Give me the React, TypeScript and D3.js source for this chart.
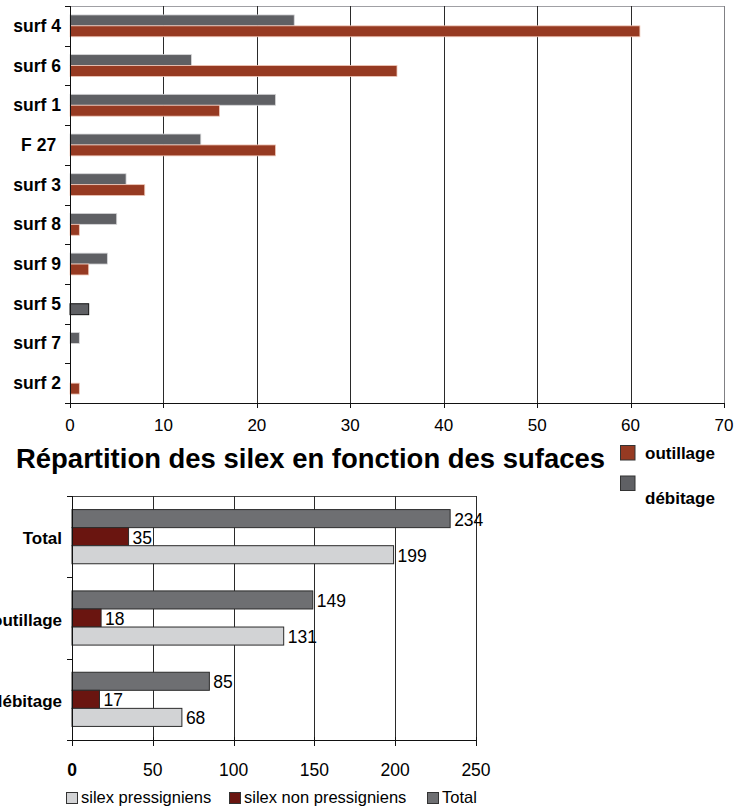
import React from "react";
import * as d3 from "d3";

// ---- Top chart data ----
const surfaces = ["surf 4", "surf 6", "surf 1", "F 27 ", "surf 3", "surf 8", "surf 9", "surf 5", "surf 7", "surf 2"];
const debitage = [24, 13, 22, 14, 6, 5, 4, 0, 1, 0];
const outillage = [61, 35, 16, 22, 8, 1, 2, 2, 0, 1];
// surf 5's outillage point is formatted grey with a black border in the original
const outillageGreyPoint = [false, false, false, false, false, false, false, true, false, false];
const topTicks = [0, 10, 20, 30, 40, 50, 60, 70];
const topSeries = ["débitage", "outillage"];
const topLegend = ["outillage", "débitage"];
const title = "Répartition des silex en fonction des sufaces";

// ---- Bottom chart data ----
const groups = ["Total", "outillage", "débitage"];
const totalVals = [234, 149, 85];
const nonPressVals = [35, 18, 17];
const pressVals = [199, 131, 68];
const bottomSeries = ["Total", "silex non pressigniens", "silex pressigniens"];
const bottomLegend = ["silex pressigniens", "silex non pressigniens", "Total"];
const bottomTicks = [0, 50, 100, 150, 200, 250];

const FONT = "Arial, 'Liberation Sans', sans-serif";
const RED = "#963a22";
const GREY = "#5f6064";
const B_TOTAL = "#6e6f72";
const B_NON = "#6a1510";
const B_PRESS = "#d2d3d5";

export default function App() {
  // top chart scales
  const xTop = d3.scaleLinear().domain([0, 70]).range([70, 724]);
  const yTop = d3.scaleBand().domain(surfaces).range([6, 403]).paddingInner(0);
  const bwTop = yTop.bandwidth();
  const ySubTop = d3.scaleBand().domain(topSeries).range([bwTop * 0.225, bwTop * 0.775]);

  // bottom chart scales
  const xBot = d3.scaleLinear().domain([0, 250]).range([72, 476]);
  const yBot = d3.scaleBand().domain(groups).range([496, 740]).paddingInner(0);
  const bwBot = yBot.bandwidth();
  const ySubBot = d3.scaleBand().domain(bottomSeries).range([bwBot * 0.167, bwBot * 0.833]);
  const botVals: Record<string, number[]> = {
    "Total": totalVals,
    "silex non pressigniens": nonPressVals,
    "silex pressigniens": pressVals,
  };
  const botColor: Record<string, string> = {
    "Total": B_TOTAL,
    "silex non pressigniens": B_NON,
    "silex pressigniens": B_PRESS,
  };

  const topBoundaries = surfaces.map((s) => yTop(s)!).concat([403]);
  const botBoundaries = groups.map((g) => yBot(g)!).concat([740]);

  return (
    <svg width={740} height={809} style={{ position: "absolute", left: 0, top: 0, background: "#fff" }} fontFamily={FONT}>
      <rect x={0} y={0} width={740} height={809} fill="#fff" />
      {/* ===== TOP CHART ===== */}
      <line x1={70} x2={724} y1={6.5} y2={6.5} stroke="#a0a0a4" strokeWidth={1} />
      {topTicks.filter((t) => t > 0).map((t) => (
        <line key={"tg" + t} x1={Math.round(xTop(t)) + 0.5} x2={Math.round(xTop(t)) + 0.5} y1={6} y2={403}
          stroke={t === 70 ? "#808084" : "#2a2a2a"} strokeWidth={1} />
      ))}
      {surfaces.map((s, i) => {
        const y0 = yTop(s)!;
        return (
          <g key={s}>
            {debitage[i] > 0 && (
              <rect x={xTop(0)} y={y0 + ySubTop("débitage")!} width={xTop(debitage[i]) - xTop(0)}
                height={ySubTop.bandwidth()} fill={GREY} stroke="#d6d6d8" strokeWidth={0.8} />
            )}
            {outillage[i] > 0 && (
              <rect x={xTop(0)} y={y0 + ySubTop("outillage")!} width={xTop(outillage[i]) - xTop(0)}
                height={ySubTop.bandwidth()}
                fill={outillageGreyPoint[i] ? GREY : RED}
                stroke={outillageGreyPoint[i] ? "#111" : "#f0c8b8"} strokeWidth={outillageGreyPoint[i] ? 1 : 0.8} />
            )}
            <text x={61} y={y0 + bwTop / 2} textAnchor="end" dominantBaseline="central"
              fontWeight="bold" fontSize={17.5} style={{ whiteSpace: "pre" }}>{s}</text>
          </g>
        );
      })}
      {/* axes */}
      <line x1={70.5} x2={70.5} y1={6} y2={403} stroke="#111" />
      {topBoundaries.map((b, i) => (
        <line key={"tb" + i} x1={65} x2={70} y1={Math.round(b) + 0.5} y2={Math.round(b) + 0.5} stroke="#111" />
      ))}
      <line x1={65} x2={724} y1={403.5} y2={403.5} stroke="#111" />
      {topTicks.map((t) => (
        <g key={"tt" + t}>
          <line x1={Math.round(xTop(t)) + 0.5} x2={Math.round(xTop(t)) + 0.5} y1={403} y2={408} stroke="#111" />
          <text x={xTop(t)} y={431} textAnchor="middle" fontSize={17}>{t}</text>
        </g>
      ))}

      {/* Title */}
      <text x={16} y={468} fontSize={27} fontWeight="bold" textLength={589} lengthAdjust="spacingAndGlyphs">{title}</text>

      {/* Top legend */}
      {topLegend.map((name, i) => (
        <g key={"tl" + name}>
          <rect x={620.5} y={445.5 + i * 30.5} width={14.5} height={14.5}
            fill={name === "outillage" ? RED : GREY} stroke="#333" strokeWidth={1} />
          <text x={645} y={i === 0 ? 459 : 504} fontSize={17} fontWeight="bold">{name}</text>
        </g>
      ))}

      {/* ===== BOTTOM CHART ===== */}
      <line x1={72} x2={476} y1={496.5} y2={496.5} stroke="#444" />
      {bottomTicks.filter((t) => t > 0).map((t) => (
        <line key={"bg" + t} x1={Math.round(xBot(t)) + 0.5} x2={Math.round(xBot(t)) + 0.5} y1={496} y2={740}
          stroke="#2a2a2a" strokeWidth={1} />
      ))}
      {groups.map((g, gi) => {
        const y0 = yBot(g)!;
        return (
          <g key={g}>
            {bottomSeries.map((s) => {
              const v = botVals[s][gi];
              const yy = y0 + ySubBot(s)!;
              return (
                <g key={s}>
                  <rect x={xBot(0)} y={yy} width={xBot(v) - xBot(0)} height={ySubBot.bandwidth()}
                    fill={botColor[s]} stroke="#2b2b2b" strokeWidth={1} />
                  <text x={xBot(v) + 4} y={yy + ySubBot.bandwidth() / 2 + 1} dominantBaseline="central"
                    fontSize={17.5}>{v}</text>
                </g>
              );
            })}
            <text x={62} y={y0 + bwBot / 2 + 2} textAnchor="end" dominantBaseline="central"
              fontWeight="bold" fontSize={17}>{g}</text>
          </g>
        );
      })}
      <line x1={72.5} x2={72.5} y1={496} y2={740} stroke="#111" />
      {botBoundaries.map((b, i) => (
        <line key={"bb" + i} x1={67} x2={72} y1={Math.round(b) + 0.5} y2={Math.round(b) + 0.5} stroke="#111" />
      ))}
      <line x1={72} x2={476} y1={740.5} y2={740.5} stroke="#111" />
      {bottomTicks.map((t) => (
        <g key={"bt" + t}>
          <line x1={Math.round(xBot(t)) + 0.5} x2={Math.round(xBot(t)) + 0.5} y1={737} y2={746} stroke="#111" />
          <text x={xBot(t)} y={776} textAnchor="middle" fontSize={17.5} fontWeight={t === 0 ? "bold" : "normal"}>{t}</text>
        </g>
      ))}

      {/* Bottom legend */}
      {bottomLegend.map((name, i) => {
        const xs = [66, 229, 427];
        return (
          <g key={"bl" + name}>
            <rect x={xs[i] + 0.5} y={792.5} width={11} height={11} fill={botColor[name]} stroke="#333" />
            <text x={xs[i] + 15} y={803} fontSize={16.5}>{name}</text>
          </g>
        );
      })}
    </svg>
  );
}
